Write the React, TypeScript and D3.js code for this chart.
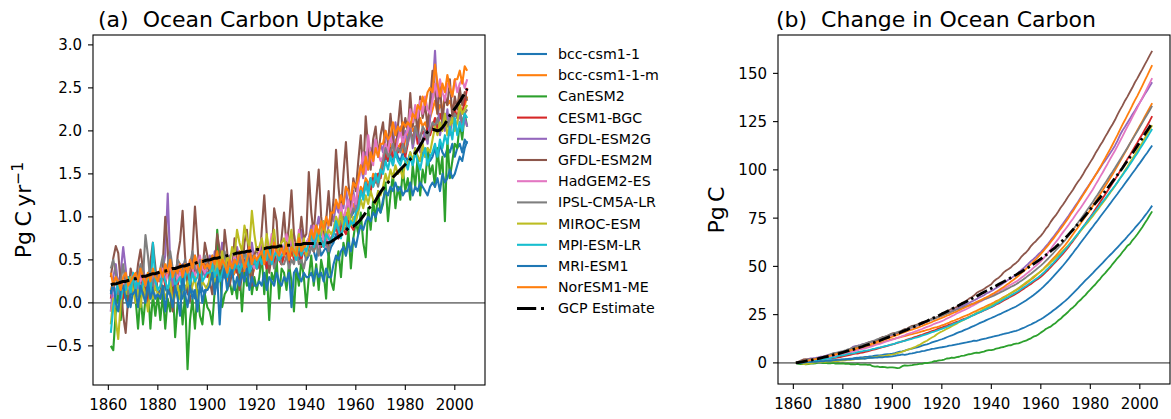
import React from "react";
import * as d3 from "d3";

// ---------- data (annual ocean carbon uptake, Pg C / yr, 1861-2005) ----------
const years: number[] = d3.range(1861, 2006);

const bccCsm11 = [
  .15,-.05,.10,.20,.00,.10,.05,.15,-.05,.15,
  .10,.20,.05,.15,.25,.00,.10,.20,.05,.10,
  .15,.05,.20,.10,.25,.05,.15,.10,.20,.05,
  .20,.10,.25,.15,.05,.20,.30,.15,.10,.20,
  .25,.40,.30,.20,.35,.45,.30,.25,.40,.30,
  .35,.50,.40,.30,.45,.55,.40,.35,.50,.40,
  .45,.60,.50,.40,.55,.65,.50,.45,.60,.50,
  .55,.65,.50,.60,.70,.55,.50,.65,.60,.50,
  .55,.65,.60,.50,.70,.55,.60,.65,.55,.65,
  .70,.80,.75,.85,.90,.85,.95,1.00,1.05,1.10,
  1.15,1.30,1.25,1.40,1.35,1.45,1.40,1.50,1.45,1.55,
  1.60,1.70,1.65,1.75,1.60,1.80,1.70,1.65,1.75,1.70,
  1.65,1.75,1.60,1.80,1.70,1.65,1.75,1.70,1.80,1.65,
  1.70,1.80,1.65,1.85,1.75,1.70,1.80,1.75,1.85,1.70,
  1.80,1.85,1.75,1.90,1.85,
];

const bccCsm11m = [
  .15,.25,.30,.20,.10,.25,.20,.30,.15,.25,
  .30,.20,.35,.25,.30,.20,.35,.30,.25,.30,
  .25,.40,.30,.45,.35,.30,.40,.35,.30,.40,
  .45,.35,.40,.50,.35,.40,.45,.35,.40,.35,
  .30,.40,.25,.35,.30,.40,.35,.25,.35,.30,
  .35,.45,.30,.40,.35,.45,.40,.30,.40,.45,
  .45,.55,.50,.60,.45,.55,.50,.60,.55,.45,
  .55,.65,.60,.55,.70,.60,.55,.65,.60,.55,
  .65,.75,.60,.70,.80,.65,.70,.75,.65,.75,
  .80,.90,.95,.85,1.00,1.05,.95,1.10,1.15,1.05,
  1.20,1.35,1.30,1.45,1.40,1.35,1.50,1.45,1.40,1.55,
  1.70,1.80,1.75,1.85,1.70,1.90,1.80,1.85,1.75,1.90,
  1.95,2.10,2.00,2.05,1.95,2.15,2.05,2.10,2.00,2.15,
  2.25,2.35,2.20,2.30,2.25,2.40,2.30,2.35,2.25,2.35,
  2.30,2.40,2.35,2.30,2.40,
];

const canEsm2 = [
  -.50,-.55,-.10,.15,-.20,.10,.25,-.05,.20,.30,
  .05,-.30,.10,-.25,.05,.20,-.30,.10,-.15,.10,
  -.20,.10,-.30,.05,-.10,.20,-.40,.00,.15,-.25,
  .10,-.77,-.20,.05,-.30,.15,-.15,-.25,.10,-.05,
  -.10,-.25,.15,.85,.40,-.05,.10,.15,.25,.10,
  .25,.05,.40,-.10,.35,.20,.50,.10,.30,.15,
  .30,.55,.10,.40,-.20,.35,.25,.50,.05,.40,
  .35,.15,.45,.25,-.10,.40,.20,.50,.30,-.05,
  .30,.55,.20,.45,.15,.50,.35,.05,.60,.25,
  .15,.45,.60,.30,.70,.55,.85,.40,.75,.95,
  .80,1.05,.70,.53,1.10,.85,1.20,.95,1.30,1.05,
  1.15,1.40,.95,1.25,1.50,1.10,1.35,1.20,1.55,1.30,
  1.45,1.20,1.60,1.35,1.70,1.25,1.55,1.40,1.75,1.50,
  1.60,1.35,1.80,1.50,1.70,.95,1.90,1.45,1.65,1.85,
  1.80,2.10,1.90,2.20,2.05,
];

const cesm1Bgc = [
  .05,.20,.10,.25,.15,.05,.20,.25,.10,.20,
  .15,.25,.30,.10,.20,-.05,.15,.25,.20,.30,
  .25,.35,.20,.40,.30,-.05,.35,.20,.35,.30,
  .40,.30,.25,.45,.35,.40,.30,.35,.45,.30,
  .35,.50,.40,.30,.45,.55,.40,.35,.50,.40,
  .45,.35,.55,.40,.50,.45,.35,.55,.50,.40,
  .50,.45,.60,.40,.55,.50,.45,.60,.50,.45,
  .55,.60,.45,.65,.50,.55,.60,.50,.65,.55,
  .65,.75,.60,.70,.80,.65,.70,.75,.65,.75,
  .80,.90,.75,.95,.85,.80,.95,.90,.85,.95,
  1.15,1.30,1.25,1.40,1.35,1.30,1.45,1.40,1.50,1.45,
  1.60,1.75,1.65,1.80,1.70,1.85,1.75,1.80,1.90,1.70,
  1.85,2.00,1.90,2.05,1.85,1.95,2.00,1.90,2.05,1.95,
  2.05,2.15,2.00,2.20,2.10,2.05,2.20,2.15,2.10,2.25,
  2.15,2.30,2.20,2.35,2.50,
];

const gfdlEsm2g = [
  -.10,.30,.45,.20,.35,.65,.40,.10,.20,.25,
  .30,.15,.35,.45,.20,.30,.40,.25,.15,.35,
  .25,.40,.55,1.27,.45,.20,.35,.45,.30,.45,
  .30,.45,.25,.40,.55,.35,.50,.40,.30,.45,
  .55,.35,.60,.45,.40,.70,.50,.35,.55,.40,
  .45,.65,.50,.40,.60,.55,.45,.70,.50,.45,
  .55,.70,.50,.65,.45,.60,.75,.55,.50,.65,
  .60,.75,.55,.70,.80,.60,.65,.85,.60,.70,
  .75,.90,.70,.85,1.00,.80,.95,.75,.90,1.05,
  .95,1.15,1.05,1.25,1.10,1.35,1.05,1.20,1.30,1.10,
  1.40,1.60,1.45,1.75,1.55,1.80,1.65,1.90,1.70,1.85,
  1.75,2.00,1.85,1.95,1.80,2.10,1.90,2.05,1.85,2.00,
  1.85,2.05,1.80,1.95,2.10,1.75,1.90,2.00,1.85,2.15,
  2.45,2.93,2.35,1.95,2.10,2.00,2.25,1.95,2.15,2.05,
  2.10,2.20,2.00,2.15,2.05,
];

const gfdlEsm2m = [
  .30,.52,.66,.58,.22,-.15,-.35,.05,.40,.27,
  .18,.45,.62,.38,.05,.12,.48,.70,.42,.10,
  .05,.45,1.00,.62,.10,-.10,.15,.55,.72,1.07,
  .55,.15,.02,.60,1.12,.70,.20,.35,.70,.55,
  .25,.10,.45,.80,.62,.30,.85,.60,.20,.35,
  .75,.45,.15,.30,.70,.85,.40,.20,.55,.65,
  .40,.85,1.25,.80,.35,.55,1.10,.95,.50,.75,
  1.05,.65,.90,1.31,.80,.55,.70,1.00,.75,.80,
  1.52,1.05,.80,1.20,1.55,1.00,.75,.95,1.30,.90,
  1.20,1.78,1.35,1.05,1.50,1.87,1.40,1.10,1.45,1.30,
  1.65,1.95,1.50,2.17,1.80,1.55,1.90,2.05,1.70,1.95,
  2.10,1.75,1.85,2.20,1.90,1.70,2.05,2.35,1.95,2.15,
  2.00,2.44,2.05,2.25,1.95,2.40,2.15,2.30,2.05,2.35,
  2.70,2.45,2.20,2.55,2.10,2.40,2.30,2.60,2.15,2.40,
  2.25,2.50,2.30,2.45,2.35,
];

const hadGem2Es = [
  -.10,.05,.15,.25,.10,.20,.30,.15,.25,.35,
  .20,.30,.25,.35,.20,.30,.25,.35,.20,.30,
  .30,.40,.25,.35,.45,.30,.40,.25,.35,.30,
  .45,.35,.50,.40,.30,.45,.55,.40,.35,.45,
  .40,.50,.35,.55,.45,.60,.40,.35,.50,.40,
  .55,.45,.60,.50,.40,.55,.65,.45,.40,.50,
  .60,.75,.55,.70,.60,.80,.55,.65,.50,.60,
  .65,.80,.60,.75,.70,.55,.85,.65,.60,.70,
  .75,.65,.90,.70,.60,.85,.75,.65,.80,.70,
  .85,1.00,.90,1.15,.95,1.10,1.20,1.00,1.25,1.15,
  1.40,1.55,1.75,1.50,1.95,1.70,1.60,1.90,1.75,1.65,
  1.70,1.85,1.75,1.95,1.80,1.70,1.90,2.00,1.85,1.95,
  2.00,2.25,2.10,2.30,2.15,2.35,2.20,2.40,2.25,2.20,
  2.35,2.55,2.40,2.60,2.45,2.35,2.55,2.50,2.40,2.60,
  2.45,2.55,2.60,2.50,2.60,
];

const ipslCm5aLr = [
  .40,.50,.35,.10,.25,.45,.20,.10,.20,.30,
  .15,.30,.45,.30,.79,.55,.25,.20,.35,.25,
  .40,.55,.35,.45,.60,.40,.30,.50,.45,.40,
  .50,.35,.45,.60,.40,.35,.50,.45,.55,.40,
  .45,.55,.40,.35,.50,.45,.60,.40,.45,.40,
  .50,.40,.55,.45,.60,.50,.40,.55,.45,.50,
  .55,.45,.50,.60,.45,.55,.40,.50,.55,.45,
  .45,.55,.40,.50,.45,.60,.45,.50,.40,.55,
  .55,.65,.60,.70,.55,.75,.65,.70,.60,.75,
  .80,.90,.85,.95,1.00,.90,1.05,1.00,1.10,1.05,
  1.15,1.30,1.25,1.40,1.30,1.45,1.35,1.45,1.35,1.50,
  1.65,1.80,1.70,1.75,1.85,1.70,1.80,1.75,1.85,1.75,
  1.90,2.00,1.85,2.05,1.95,1.90,2.05,2.00,1.90,2.00,
  2.10,2.05,2.15,2.00,2.10,2.20,2.05,2.15,2.10,2.20,
  2.15,2.25,2.10,2.20,2.25,
];

const mirocEsm = [
  -.25,.05,-.20,-.42,.00,.20,.10,.25,.30,.15,
  .00,.15,-.05,.20,.10,-.10,.15,.05,.20,.10,
  .10,.20,.05,.15,.25,.00,.10,.20,.05,.15,
  .15,.25,.10,.20,.30,.05,.15,.25,.20,.15,
  .30,.45,.25,.50,.40,.60,.35,.55,.45,.65,
  .55,.85,.70,.60,.90,.75,.65,1.07,.80,.60,
  .65,.75,.55,.80,.60,.70,.85,.55,.65,.70,
  .75,.60,.70,.85,.55,.65,.80,.60,.75,.55,
  .70,.85,.75,.90,.70,.80,.95,.75,.85,.80,
  .85,1.00,.90,1.05,.85,.95,1.10,.90,1.00,.95,
  1.05,1.20,1.10,1.25,1.15,1.30,1.20,1.15,1.30,1.25,
  1.35,1.50,1.40,1.55,1.45,1.60,1.50,1.55,1.45,1.65,
  1.60,1.75,1.65,1.80,1.70,1.65,1.85,1.70,1.80,1.75,
  1.90,2.05,1.95,2.10,2.00,2.20,1.95,2.05,2.15,2.00,
  2.10,2.30,2.20,2.25,2.30,
];

const mpiEsmLr = [
  -.35,-.05,.10,.25,.05,.20,.15,.30,.10,.35,
  .15,.30,.10,.25,.20,.35,.05,.70,.25,.15,
  .20,.35,.25,.15,.30,.40,.20,.25,.30,.15,
  .30,.40,.20,.35,.25,.30,.45,.25,.30,.35,
  .35,.45,.30,.40,.25,.35,.45,.30,.40,.35,
  .40,.50,.35,.45,.40,.55,.35,.45,.50,.40,
  .55,.45,.60,.50,.65,.45,.55,.60,.50,.55,
  .60,.70,.55,.65,.60,.50,.70,.55,.65,.60,
  .70,.80,.65,.75,.85,.70,.65,.80,.75,.70,
  .80,.95,.85,.75,.90,1.00,.85,.95,.90,1.05,
  1.10,1.30,1.20,1.40,1.25,1.45,1.35,1.50,1.40,1.55,
  1.50,1.65,1.55,1.70,1.60,1.75,1.65,1.60,1.70,1.65,
  1.55,1.70,1.60,1.75,1.65,1.55,1.70,1.80,1.60,1.70,
  1.75,1.85,1.70,1.90,1.80,1.95,1.85,2.05,1.90,2.15,
  1.95,2.10,2.00,2.20,2.15,
];

const mriEsm1 = [
  .10,.25,.00,-.10,.15,.20,.05,-.05,.10,.10,
  .15,-.05,.20,.10,.00,.25,.05,.15,.05,.10,
  .05,.20,-.10,.15,.10,-.05,.20,.05,-.15,.35,
  .10,-.05,.20,.05,.15,-.10,.25,.00,.15,.15,
  .20,.35,.10,.30,-.25,.25,.40,.15,.30,.40,
  .15,.30,.20,.35,.25,.40,.15,.30,.20,.20,
  .25,.20,.35,.15,.30,.25,.20,.35,.25,.20,
  .30,.25,.35,-.05,.35,.40,.30,.25,.35,.30,
  .30,.35,.25,.40,.30,.35,.25,.40,.30,.30,
  .45,.55,.50,.60,.65,.55,.70,.60,.75,.65,
  .80,.90,.85,.95,1.00,.95,1.05,1.00,1.10,1.05,
  1.20,1.30,1.25,1.35,1.30,1.40,1.30,1.35,1.25,1.30,
  1.30,1.40,1.25,1.35,1.30,1.40,1.35,1.30,1.25,1.35,
  1.40,1.35,1.45,1.30,1.50,1.40,1.45,1.55,1.45,1.50,
  1.60,1.70,1.65,1.80,1.88,
];

const norEsm1Me = [
  .35,.20,.30,.25,.15,.30,.35,.20,.25,.30,
  .35,.25,.40,.30,.20,.35,.25,.40,.30,.25,
  .40,.30,.45,.35,.50,.30,.40,.35,.45,.30,
  .45,.35,.50,.40,.55,.45,.35,.50,.40,.45,
  .40,.55,.45,.60,.40,.50,.45,.35,.50,.40,
  .50,.45,.60,.55,.40,.50,.65,.45,.55,.50,
  .55,.60,.45,.65,.55,.50,.70,.60,.55,.65,
  .55,.70,.50,.65,.60,.55,.75,.60,.65,.70,
  .70,.85,.75,.90,.80,.95,.85,1.00,.90,1.05,
  1.05,1.20,1.10,1.25,1.15,1.35,1.30,1.20,1.40,1.35,
  1.45,1.60,1.50,1.70,1.55,1.75,1.65,1.80,1.70,1.85,
  1.85,2.00,1.90,1.95,2.10,1.95,2.05,2.00,2.10,2.05,
  2.10,2.05,2.20,2.15,2.30,2.25,2.40,2.30,2.45,2.50,
  2.45,2.77,2.55,2.40,2.55,2.45,2.65,2.50,2.40,2.60,
  2.60,2.70,2.55,2.75,2.70,
];

const gcpEstimate = [
  .21,.22,.22,.23,.24,.25,.25,.26,.27,.28,
  .28,.29,.30,.31,.31,.32,.33,.34,.34,.35,
  .36,.37,.37,.38,.39,.40,.40,.41,.42,.43,
  .43,.44,.45,.45,.46,.47,.48,.48,.49,.50,
  .50,.51,.52,.52,.53,.54,.54,.55,.56,.56,
  .57,.58,.58,.59,.59,.60,.60,.61,.61,.62,
  .62,.63,.63,.64,.64,.65,.65,.65,.66,.66,
  .66,.67,.67,.67,.68,.68,.68,.68,.69,.69,
  .69,.69,.69,.69,.69,.69,.70,.70,.70,.71,
  .73,.75,.77,.79,.81,.84,.87,.88,.89,.91,
  .94,.97,1.01,1.05,1.09,1.12,1.15,1.19,1.24,1.29,
  1.33,1.37,1.40,1.43,1.46,1.49,1.52,1.55,1.58,1.61,
  1.64,1.67,1.70,1.74,1.78,1.83,1.88,1.94,1.99,2.01,
  2.02,2.01,2.00,2.01,2.04,2.08,2.13,2.18,2.22,2.26,
  2.30,2.34,2.39,2.44,2.49,
];

// GCP cumulative change in ocean carbon (Pg C)
const gcpStock = [
  0,.2,.4,.7,.9,1.2,1.4,1.7,2.0,2.2,
  2.5,2.8,3.1,3.4,3.7,4.1,4.4,4.7,5.1,5.4,
  5.8,6.2,6.5,6.9,7.3,7.7,8.1,8.5,9.0,9.4,
  9.8,10.3,10.7,11.2,11.6,12.1,12.6,13.1,13.6,14.1,
  14.6,15.1,15.6,16.2,16.7,17.2,17.8,18.3,18.9,19.4,
  20.0,20.6,21.2,21.7,22.3,22.9,23.5,24.1,24.7,25.4,
  26.0,26.6,27.3,27.9,28.6,29.2,29.9,30.5,31.2,31.8,
  32.5,33.2,33.8,34.5,35.2,35.9,36.6,37.3,38.0,38.6,
  39.3,40.0,40.7,41.4,42.1,42.8,43.5,44.2,44.9,45.6,
  46.4,47.1,47.9,48.7,49.5,50.3,51.2,52.1,53.0,53.9,
  54.8,55.8,56.8,57.9,58.9,60.0,61.2,62.4,63.6,64.9,
  66.2,67.6,69.0,70.4,71.9,73.3,74.9,76.4,78.0,79.6,
  81.1,82.6,84.2,85.7,87.3,88.9,90.6,92.3,94.0,95.7,
  97.5,99.2,101.0,102.9,104.7,106.6,108.5,110.4,112.4,114.4,
  116.4,118.4,120.4,122.4,124.4,
];

const modelNames = [
  "bcc-csm1-1", "bcc-csm1-1-m", "CanESM2", "CESM1-BGC", "GFDL-ESM2G", "GFDL-ESM2M",
  "HadGEM2-ES", "IPSL-CM5A-LR", "MIROC-ESM", "MPI-ESM-LR", "MRI-ESM1", "NorESM1-ME",
];
const modelValues = [
  bccCsm11, bccCsm11m, canEsm2, cesm1Bgc, gfdlEsm2g, gfdlEsm2m,
  hadGem2Es, ipslCm5aLr, mirocEsm, mpiEsmLr, mriEsm1, norEsm1Me,
];
const gcpName = "GCP Estimate";
const titleA = "(a)  Ocean Carbon Uptake";
const titleB = "(b)  Change in Ocean Carbon";
const xTicks = [1860, 1880, 1900, 1920, 1940, 1960, 1980, 2000];
const yTicksA = [-0.5, 0, 0.5, 1.0, 1.5, 2.0, 2.5, 3.0];
const yTicksB = [0, 25, 50, 75, 100, 125, 150];

const palette = d3.schemeCategory10;
const FONT = "DejaVu Sans, Verdana, sans-serif";

function stock(values: number[]): number[] {
  const c = Array.from(d3.cumsum(values));
  return c.map((v) => v - values[0]);
}

function padded(ext: [number, number]): [number, number] {
  const p = (ext[1] - ext[0]) * 0.05;
  return [ext[0] - p, ext[1] + p];
}

type PanelProps = {
  left: number; right: number; top: number; bottom: number;
  series: number[][]; gcp: number[]; yTicks: number[];
  fmt: (v: number) => string; lw: number; gcpW: number; gcpDash: string;
};

function Panel(p: PanelProps) {
  const xDom = padded([years[0], years[years.length - 1]]);
  const all = [...p.series.flat(), ...p.gcp];
  const yDom = padded(d3.extent(all) as [number, number]);
  const x = d3.scaleLinear().domain(xDom).range([p.left, p.right]);
  const y = d3.scaleLinear().domain(yDom).range([p.bottom, p.top]);
  const line = d3.line<number>().x((_, i) => x(years[i])).y((v) => y(v));
  return (
    <g>
      <line x1={p.left} x2={p.right} y1={y(0)} y2={y(0)} stroke="#808080" strokeWidth={1.6} />
      {p.series.map((s, i) => (
        <path key={i} d={line(s) || ""} fill="none" stroke={palette[i % 10]}
          strokeWidth={p.lw} strokeLinejoin="round" strokeLinecap="butt" />
      ))}
      <path d={line(p.gcp) || ""} fill="none" stroke="#000" strokeWidth={p.gcpW}
        strokeDasharray={p.gcpDash} strokeLinejoin="round" />
      <rect x={p.left} y={p.top} width={p.right - p.left} height={p.bottom - p.top}
        fill="none" stroke="#000" strokeWidth={1.1} />
      {xTicks.map((t) => (
        <g key={"x" + t}>
          <line x1={x(t)} x2={x(t)} y1={p.bottom} y2={p.bottom + 5} stroke="#000" strokeWidth={1.1} />
          <text x={x(t)} y={p.bottom + 24.5} textAnchor="middle" fontSize={15} fontFamily={FONT}>{t}</text>
        </g>
      ))}
      {p.yTicks.map((t) => (
        <g key={"y" + t}>
          <line x1={p.left - 5} x2={p.left} y1={y(t)} y2={y(t)} stroke="#000" strokeWidth={1.1} />
          <text x={p.left - 11} y={y(t) + 5.5} textAnchor="end" fontSize={15} fontFamily={FONT}>{p.fmt(t)}</text>
        </g>
      ))}
    </g>
  );
}

export default function App() {
  const fmtA = (v: number) => (v < 0 ? "\u2212" : "") + Math.abs(v).toFixed(1);
  const fmtB = (v: number) => (v < 0 ? "\u2212" : "") + String(Math.abs(v));
  const stocks = modelValues.map(stock);
  const legendY0 = 54, legendStep = 21.2;
  return (
    <svg width={1171} height={419} style={{ position: "absolute", left: 0, top: 0, background: "#fff" }}>
      <rect x={0} y={0} width={1171} height={419} fill="#fff" />
      <text x={98} y={27} fontSize={22} fontFamily={FONT} style={{ whiteSpace: "pre" }}>{titleA}</text>
      <text x={776} y={27} fontSize={22} fontFamily={FONT} style={{ whiteSpace: "pre" }}>{titleB}</text>
      <text transform="translate(31,210) rotate(-90)" textAnchor="middle" fontSize={22} fontFamily={FONT}>
        Pg{"\u2009"}C{"\u2009"}yr<tspan dy={-8} fontSize={15.5}>{"\u2212"}1</tspan>
      </text>
      <text transform="translate(724,210) rotate(-90)" textAnchor="middle" fontSize={22} fontFamily={FONT}>
        Pg{"\u2009"}C
      </text>
      <Panel left={93} right={485} top={35} bottom={385} series={modelValues} gcp={gcpEstimate}
        yTicks={yTicksA} fmt={fmtA} lw={2.1} gcpW={3} gcpDash="19.2,4.8,3,4.8" />
      <Panel left={778} right={1170} top={35} bottom={384} series={stocks} gcp={gcpStock}
        yTicks={yTicksB} fmt={fmtB} lw={1.8} gcpW={2.8} gcpDash="12,3.5,2.5,3.5" />
      {modelNames.map((n, i) => (
        <g key={n}>
          <line x1={517} x2={547} y1={legendY0 + i * legendStep} y2={legendY0 + i * legendStep}
            stroke={palette[i % 10]} strokeWidth={2.1} />
          <text x={558} y={legendY0 + i * legendStep + 5} fontSize={14.2} fontFamily={FONT}>{n}</text>
        </g>
      ))}
      <line x1={517} x2={547} y1={legendY0 + 12 * legendStep} y2={legendY0 + 12 * legendStep}
        stroke="#000" strokeWidth={3} strokeDasharray="19.2,4.8,3,4.8" />
      <text x={558} y={legendY0 + 12 * legendStep + 5} fontSize={14.2} fontFamily={FONT}>{gcpName}</text>
    </svg>
  );
}
